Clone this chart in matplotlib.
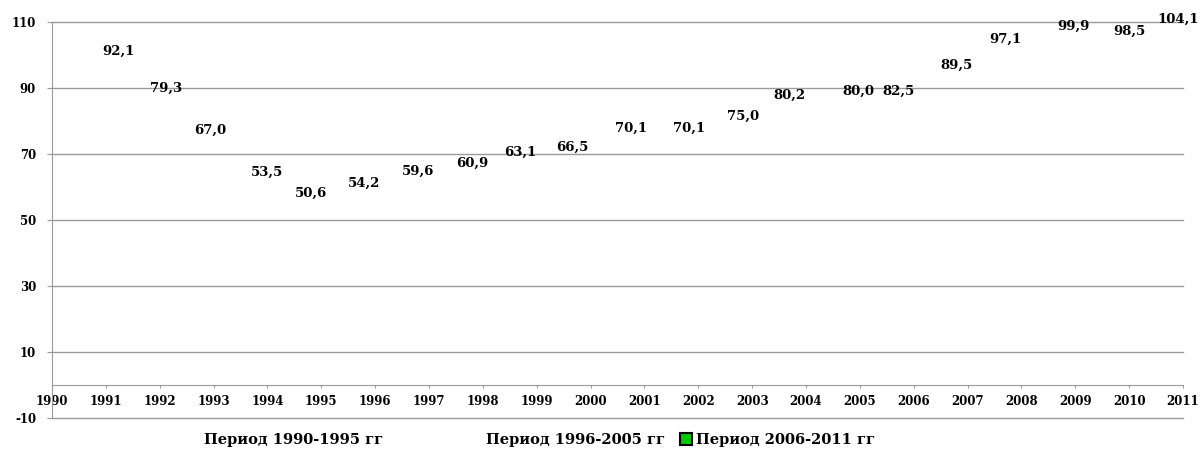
import matplotlib
matplotlib.use("Agg")
import matplotlib.pyplot as plt
from matplotlib.lines import Line2D

# ---- data ----
years = list(range(1990, 2012))
value_years = list(range(1991, 2012))
values = [92.1, 79.3, 67.0, 53.5, 50.6, 54.2, 59.6, 60.9, 63.1, 66.5,
          70.1, 70.1, 75.0, 80.2, 80.0, 82.5, 89.5, 97.1, 99.9, 98.5, 104.1]
legend_labels = ["Период 1990-1995 гг", "Период 1996-2005 гг", "Период 2006-2011 гг"]
y_ticks = [-10, 10, 30, 50, 70, 90, 110]

# label placement tweaks (category units / value units), as in the original
label_dx = [0.24, 0.12, -0.07, -0.01, -0.19, -0.21, -0.20, -0.20, -0.31, -0.33,
            -0.25, -0.17, -0.17, -0.30, -0.02, -0.29, -0.20, -0.29, -0.04, 0.01, -0.09]
label_dy = [8.9, 10.6, 10.3, 11.1, 7.6, 7.0, 5.2, 6.4, 7.5, 5.6,
            7.8, 7.8, 6.5, 7.5, 9.1, 6.6, 7.5, 7.7, 8.9, 8.8, 6.8]

FONT = "DejaVu Serif"
GRID = "#9a9a9a"

fig = plt.figure(figsize=(12, 4.5), dpi=100)
ax = fig.add_axes([52 / 1200, 1 - 418 / 450, (1183 - 52) / 1200, (418 - 22) / 450])

ax.set_xlim(0, len(years) - 1)
ax.set_ylim(-10, 110)

# gridlines
ax.set_yticks(y_ticks)
ax.yaxis.grid(True, color=GRID, lw=1)
ax.set_axisbelow(True)
for gl in ax.get_ygridlines():
    gl.set_clip_on(False)

# spines
for s in ["top", "right"]:
    ax.spines[s].set_visible(False)
ax.spines["bottom"].set_position(("data", 0))
ax.spines["bottom"].set_color(GRID)
ax.spines["left"].set_color(GRID)

ax.set_xticks(range(len(years)))
ax.set_xticklabels([str(y) for y in years], fontfamily=FONT, fontweight="bold", fontsize=8.5)
ax.set_yticklabels([str(v) for v in y_ticks], fontfamily=FONT, fontweight="bold", fontsize=8.5)
ax.tick_params(axis="x", length=2.5, color=GRID, pad=4.5)
ax.tick_params(axis="y", length=3.5, color=GRID, pad=8)

# data labels
for yr, v, dx, dy in zip(value_years, values, label_dx, label_dy):
    idx = years.index(yr)
    ax.text(idx + dx, v + dy, f"{v:.1f}".replace(".", ","),
            ha="center", va="center", fontfamily=FONT, fontweight="bold",
            fontsize=9.5, color="black", clip_on=False)

# legend (three entries)
handles = [
    Line2D([], [], linestyle="none", marker="none"),
    Line2D([], [], linestyle="none", marker="none"),
    Line2D([], [], linestyle="none", marker="s", markersize=8,
           markerfacecolor="#00c800", markeredgecolor="black", markeredgewidth=1.5),
]
anchors = [188, 470, 680]
for h, lab, xa in zip(handles, legend_labels, anchors):
    fig.legend(handles=[h], labels=[lab], loc="center left",
               bbox_to_anchor=(xa / 1200, 1 - 440 / 450), frameon=False,
               borderpad=0, borderaxespad=0, handlelength=0.8, handletextpad=0.3,
               prop={"family": FONT, "weight": "bold", "size": 10.5})

fig.savefig("out.png", dpi=100)
